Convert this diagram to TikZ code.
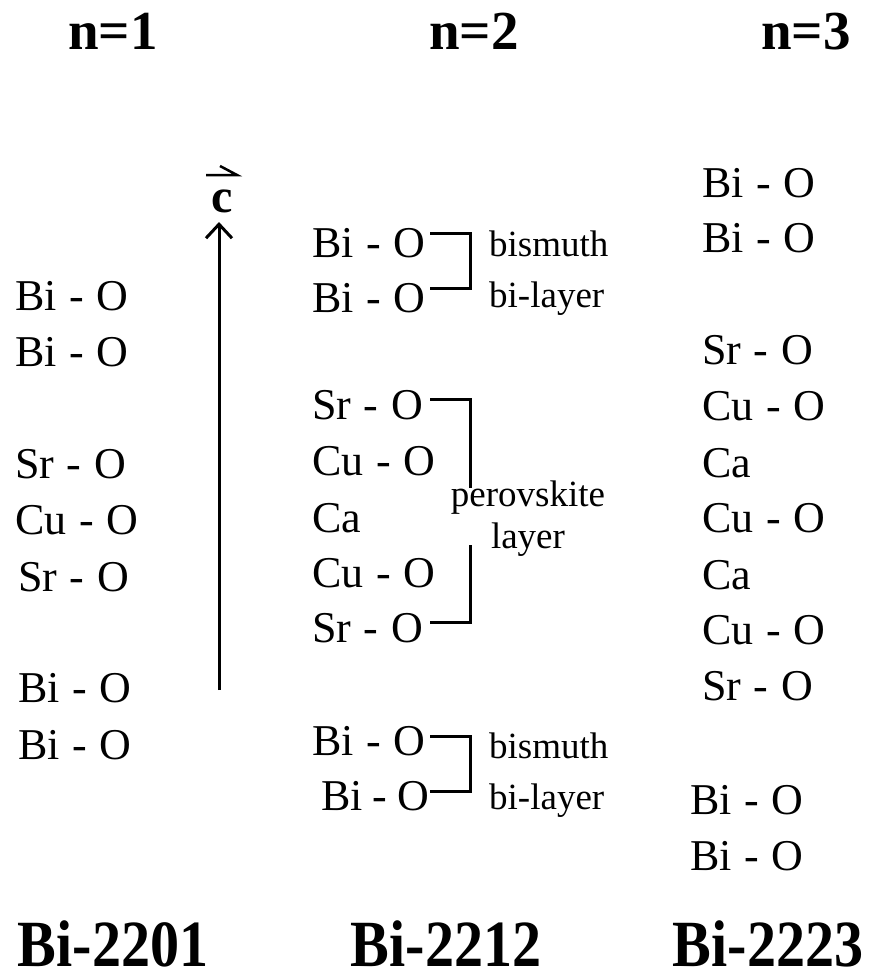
\documentclass[tikz,border=0pt]{standalone}
\usepackage{fontspec}
\setmainfont{Liberation Serif}[WordSpace=1.15]
\usetikzlibrary{arrows.meta}
\begin{document}
\begin{tikzpicture}[x=1pt,y=-1pt,
  el/.style={anchor=base west,inner sep=0pt,font=\fontsize{44}{44}\selectfont},
  lab/.style={anchor=base west,inner sep=0pt,font=\fontsize{37}{37}\selectfont},
  plab/.style={anchor=base,inner sep=0pt,font=\fontsize{37}{37}\selectfont},
  ttl/.style={anchor=base,inner sep=0pt,font=\fontsize{55}{55}\selectfont\bfseries},
  nm/.style={anchor=base,inner sep=0pt,font=\fontsize{66}{66}\selectfont\bfseries},
  br/.style={line width=3pt},
  axis/.style={line width=3pt,-{Straight Barb[length=14pt,width=26pt,line width=3pt]}}]
\useasboundingbox (0,0) rectangle (876,980);
% titles
\node[ttl] (t1) at (113,49) {n=1};
\node[ttl] (t2) at (474,49) {n=2};
\node[ttl] (t3) at (806,49) {n=3};
% column 1
\node[el] (a1) at (15,310) {Bi - O};
\node[el] (a2) at (15,366) {Bi - O};
\node[el] (a3) at (15,478) {Sr - O};
\node[el] (a4) at (15,534) {Cu - O};
\node[el] (a5) at (18,591) {Sr - O};
\node[el] (a6) at (18,702) {Bi - O};
\node[el] (a7) at (18,759) {Bi - O};
% column 2
\node[el] (b1) at (312,257) {Bi - O};
\node[el] (b2) at (312,312) {Bi - O};
\node[el] (b3) at (312,419) {Sr - O};
\node[el] (b4) at (312,475) {Cu - O};
\node[el] (b5) at (312,532) {Ca};
\node[el] (b6) at (312,587) {Cu - O};
\node[el] (b7) at (312,642) {Sr - O};
\node[el] (b8) at (312,755) {Bi - O};
\node[el] (b9) at (321,810) {Bi\hspace{10pt}-\hspace{10pt}O};
% column 3
\node[el] (c1) at (702,197) {Bi - O};
\node[el] (c2) at (702,252) {Bi - O};
\node[el] (c3) at (702,364) {Sr - O};
\node[el] (c4) at (702,420) {Cu - O};
\node[el] (c5) at (702,477) {Ca};
\node[el] (c6) at (702,532) {Cu - O};
\node[el] (c7) at (702,589) {Ca};
\node[el] (c8) at (702,644) {Cu - O};
\node[el] (c9) at (702,700) {Sr - O};
\node[el] (c10) at (690,814) {Bi - O};
\node[el] (c11) at (690,870) {Bi - O};
% c axis
\coordinate (axb) at (219,690);
\coordinate (axt) at (219,222);
\draw[axis] (axb) -- (axt);
\node[inner sep=0pt,anchor=base,font=\fontsize{48}{48}\selectfont\bfseries] (cv) at (222,212) {c};
\draw[line width=2.5pt] (206,175) -- (237,175) -- (220,166);
% brackets
\draw[br] (430,233) -- (470,233) -- (470,288) -- (430,288);
\node[lab] (bs1) at (489,256) {bismuth};
\node[lab] (bl1) at (489,307) {bi-layer};
\draw[br] (430,399) -- (470,399) -- (470,488);
\draw[br] (470,545) -- (470,622) -- (430,622);
\node[plab] (pv) at (528,506) {perovskite};
\node[plab] (ly) at (528,548) {layer};
\draw[br] (430,736) -- (470,736) -- (470,791) -- (430,791);
\node[lab] (bs2) at (489,758) {bismuth};
\node[lab] (bl2) at (489,809) {bi-layer};
% names
\node[nm] (n1) at (113,966) {\scalebox{0.88}[1]{Bi-2201}};
\node[nm] (n2) at (446,966) {\scalebox{0.88}[1]{Bi-2212}};
\node[nm] (n3) at (768,966) {\scalebox{0.88}[1]{Bi-2223}};
\end{tikzpicture}
\end{document}
